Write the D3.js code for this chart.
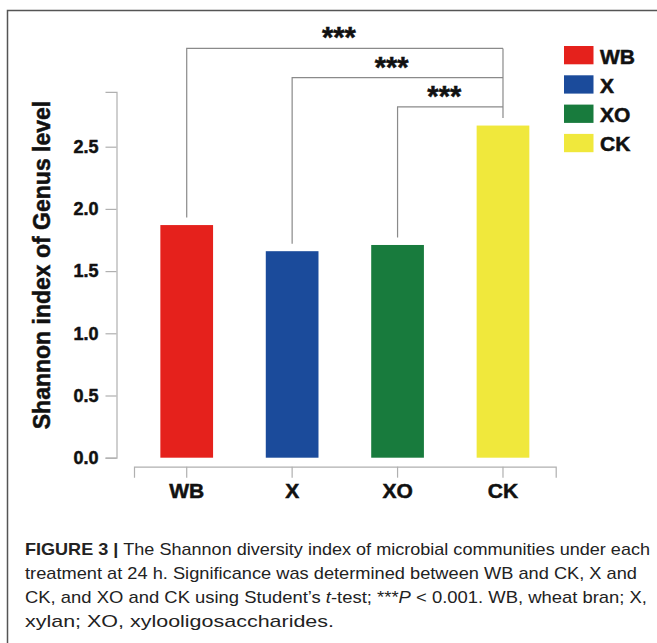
<!DOCTYPE html>
<html>
<head>
<meta charset="utf-8">
<script src="https://cdn.jsdelivr.net/npm/d3@7"></script>
<style>
  html, body { margin: 0; padding: 0; background: #fff; }
  svg { display: block; }
</style>
</head>
<body>
<svg id="chart" width="657" height="643"></svg>
<script>
// ---- data ----
const categories = ["WB", "X", "XO", "CK"];
const shannon = [1.87, 1.66, 1.71, 2.67];
const colors = ["#e5211c", "#1b4b9b", "#187b3d", "#f0e83c"];
const yTicks = [0, 0.5, 1.0, 1.5, 2.0, 2.5];
const comparisons = [
  { from: "WB", to: "CK", level: 3.29, label: "***" },
  { from: "X",  to: "CK", level: 3.056, label: "***" },
  { from: "XO", to: "CK", level: 2.82, label: "***" }
];
const yLabel = "Shannon index of Genus level";

const svg = d3.select("#chart");

// frame
svg.append("rect")
  .attr("x", 7.5).attr("y", 10.5)
  .attr("width", 700).attr("height", 700)
  .attr("fill", "none").attr("stroke", "#555").attr("stroke-width", 1.5);

// scales
const yMax = 2.94;
const y = d3.scaleLinear().domain([0, yMax]).range([457.7, 457.7 - yMax * 124.4]);
const x = d3.scaleBand().domain(categories).range([134, 555.7]).paddingInner(0.5).paddingOuter(0.25);

const axisColor = "#b0b0b0";
const font = "'Liberation Sans', Arial, Helvetica, sans-serif";
const heavy = sel => sel.attr("stroke", "#111").attr("stroke-width", 0.5).attr("paint-order", "stroke");

// y axis
const yAxisG = svg.append("g").attr("transform", "translate(116.5,0)")
  .call(d3.axisLeft(y).tickValues(yTicks).tickFormat(d3.format(".1f")).tickSize(11).tickSizeOuter(11).tickPadding(7));
yAxisG.selectAll("path, line").attr("stroke", axisColor).attr("stroke-width", 1.2);
yAxisG.selectAll("text")
  .attr("font-family", font).attr("font-weight", "bold").attr("font-size", 18)
  .attr("fill", "#111").call(heavy);

// x axis
const xAxisG = svg.append("g").attr("transform", "translate(0,466.7)")
  .call(d3.axisBottom(x).tickSize(11).tickSizeOuter(11).tickPadding(4));
xAxisG.selectAll("path, line").attr("stroke", axisColor).attr("stroke-width", 1.2);
xAxisG.selectAll("text")
  .attr("font-family", font).attr("font-weight", "bold").attr("font-size", 21)
  .attr("fill", "#111").attr("dy", "0.78em").call(heavy);

// bars
svg.append("g").selectAll("rect").data(categories).join("rect")
  .attr("x", d => x(d))
  .attr("y", (d, i) => y(shannon[i]))
  .attr("width", x.bandwidth())
  .attr("height", (d, i) => y(0) - y(shannon[i]))
  .attr("fill", (d, i) => colors[i]);

// y label
svg.append("text")
  .attr("transform", "translate(50,265) rotate(-90)")
  .attr("text-anchor", "middle")
  .attr("font-family", font).attr("font-weight", "bold").attr("font-size", 23)
  .attr("fill", "#111").call(heavy)
  .text(yLabel);

// significance brackets
const cx = d => x(d) + x.bandwidth() / 2;
const valOf = d => shannon[categories.indexOf(d)];
const gap = 7.5;
const brG = svg.append("g");
comparisons.forEach(c => {
  const x1 = cx(c.from), x2 = cx(c.to), ly = y(c.level);
  brG.append("path")
    .attr("d", `M${x1},${y(valOf(c.from)) - gap}V${ly}H${x2}`)
    .attr("fill", "none").attr("stroke", "#8a8a8a").attr("stroke-width", 1.2);
  brG.append("text")
    .attr("x", (x1 + x2) / 2 - 6).attr("y", ly - 1)
    .attr("text-anchor", "middle")
    .attr("font-family", font).attr("font-weight", "bold").attr("font-size", 29)
    .attr("fill", "#111").call(heavy)
    .text(c.label);
});
// right vertical down to CK
brG.append("path")
  .attr("d", `M${cx("CK")},${y(d3.max(comparisons, c => c.level))}V${y(valOf("CK")) - gap}`)
  .attr("fill", "none").attr("stroke", "#8a8a8a").attr("stroke-width", 1.2);

// legend
const lg = svg.append("g").attr("transform", "translate(564,46)");
categories.forEach((c, i) => {
  const g = lg.append("g").attr("transform", `translate(0,${i * 29.3})`);
  g.append("rect").attr("width", 29.5).attr("height", 18.3).attr("fill", colors[i]);
  g.append("text").attr("x", 36).attr("y", 17.5)
    .attr("font-family", font).attr("font-weight", "bold").attr("font-size", 21)
    .attr("fill", "#111").call(heavy).text(c);
});

// caption
const capFont = "'Liberation Sans', Arial, sans-serif";
const capLines = [
  { y: 555, end: 650, parts: [["FIGURE 3 | ", "bold", "normal"], ["The Shannon diversity index of microbial communities under each", "normal", "normal"]] },
  { y: 579, end: 637, parts: [["treatment at 24 h. Significance was determined between WB and CK, X and", "normal", "normal"]] },
  { y: 603, end: 647, parts: [["CK, and XO and CK using Student\u2019s ", "normal", "normal"], ["t", "normal", "italic"], ["-test; ***", "normal", "normal"], ["P", "normal", "italic"], [" < 0.001. WB, wheat bran; X,", "normal", "normal"]] },
  { y: 627, end: 334, parts: [["xylan; XO, xylooligosaccharides.", "normal", "normal"]] }
];
const capStart = 25;
capLines.forEach(l => {
  const t = svg.append("text")
    .attr("x", capStart).attr("y", l.y)
    .attr("font-family", capFont).attr("font-size", 17)
    .attr("fill", "#222")
    .attr("textLength", l.end - capStart)
    .attr("lengthAdjust", "spacingAndGlyphs")
    .attr("xml:space", "preserve");
  l.parts.forEach(p => {
    t.append("tspan").attr("font-weight", p[1]).attr("font-style", p[2]).text(p[0]);
  });
});
</script>
</body>
</html>
